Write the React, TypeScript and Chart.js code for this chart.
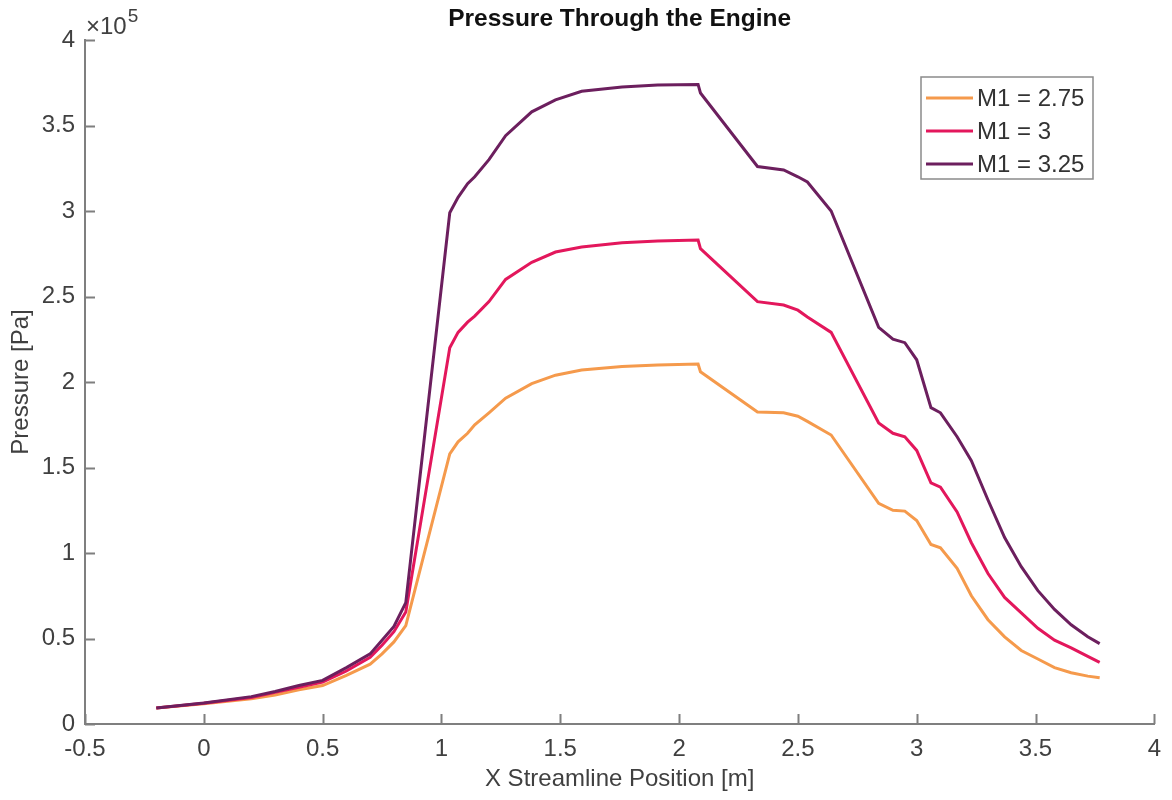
import React, { useEffect, useRef } from "react";
import { Chart, registerables } from "chart.js";

Chart.register(...registerables);

// Streamline position along the engine [m]
const X_POS = [
  -0.2, 0, 0.2, 0.3, 0.4, 0.5, 0.6, 0.7, 0.75, 0.8, 0.85, 1.035, 1.07, 1.11, 1.14,
  1.2, 1.27, 1.38, 1.48, 1.59, 1.76, 1.91, 2.08, 2.09, 2.33, 2.44, 2.5, 2.54, 2.64,
  2.84, 2.9, 2.95, 3.0, 3.06, 3.1, 3.17, 3.23, 3.3, 3.37, 3.44, 3.51, 3.58, 3.65,
  3.72, 3.77,
];

// Static pressure in units of 10^5 Pa
const P_M275 = [
  0.094, 0.118, 0.148, 0.17, 0.2, 0.225, 0.285, 0.35, 0.41, 0.48, 0.575, 1.58, 1.65,
  1.7, 1.75, 1.82, 1.905, 1.99, 2.04, 2.07, 2.09, 2.1, 2.105, 2.06, 1.825, 1.82, 1.8,
  1.77, 1.69, 1.29, 1.25, 1.245, 1.19, 1.05, 1.03, 0.91, 0.75, 0.61, 0.51, 0.43,
  0.38, 0.33, 0.3, 0.28, 0.27,
];
const P_M300 = [
  0.094, 0.122, 0.155, 0.185, 0.215, 0.245, 0.31, 0.39, 0.46, 0.54, 0.655, 2.2, 2.29,
  2.35, 2.385, 2.47, 2.6, 2.7, 2.76, 2.79, 2.815, 2.825, 2.83, 2.78, 2.47, 2.45, 2.42,
  2.38, 2.29, 1.76, 1.7, 1.68, 1.6, 1.41, 1.385, 1.24, 1.06, 0.88, 0.74, 0.65, 0.56,
  0.49, 0.445, 0.395, 0.36,
];
const P_M325 = [
  0.094, 0.123, 0.16, 0.19, 0.225, 0.255, 0.33, 0.41, 0.49, 0.57, 0.71, 2.99, 3.08,
  3.16, 3.2, 3.3, 3.44, 3.58, 3.65, 3.7, 3.725, 3.737, 3.74, 3.69, 3.26, 3.24, 3.2,
  3.17, 3.0, 2.32, 2.25, 2.23, 2.13, 1.85, 1.82, 1.68, 1.54, 1.31, 1.09, 0.92, 0.78,
  0.67, 0.58, 0.51, 0.47,
];

const SERIES_LABELS = ["M1 = 2.75", "M1 = 3", "M1 = 3.25"];
const X_TICKS = [-0.5, 0, 0.5, 1, 1.5, 2, 2.5, 3, 3.5, 4];
const Y_TICKS = [0, 0.5, 1, 1.5, 2, 2.5, 3, 3.5, 4];
const Y_EXPONENT = "5";

const TITLE = "Pressure Through the Engine";
const X_TITLE = "X Streamline Position [m]";
const Y_TITLE = "Pressure [Pa]";

const FONT = "'Liberation Sans', Arial, Helvetica, sans-serif";
const AXIS_COLOR = "#7f7f7f";
const TEXT_COLOR = "#404040";

const toPoints = (ys: number[]) => X_POS.map((x, i) => ({ x, y: ys[i] }));

// Inward ticks, ×10^5 label, title and the boxed legend
const decorations = {
  id: "decorations",
  afterDraw(chart: any) {
    const { ctx, chartArea, scales } = chart;
    const xs = scales.x;
    const ys = scales.y;
    ctx.save();

    // inward tick marks
    ctx.strokeStyle = AXIS_COLOR;
    ctx.lineWidth = 2;
    ctx.beginPath();
    X_TICKS.forEach((v) => {
      const px = Math.round(xs.getPixelForValue(v)) + 0.5;
      ctx.moveTo(px, chartArea.bottom);
      ctx.lineTo(px, chartArea.bottom - 10);
    });
    Y_TICKS.forEach((v) => {
      const py = Math.round(ys.getPixelForValue(v)) + 0.5;
      ctx.moveTo(chartArea.left, py);
      ctx.lineTo(chartArea.left + 10, py);
    });
    ctx.stroke();

    // exponent label
    ctx.fillStyle = TEXT_COLOR;
    ctx.textBaseline = "alphabetic";
    ctx.textAlign = "left";
    ctx.font = `24px ${FONT}`;
    ctx.fillText("\u00d710", chartArea.left + 1, 34);
    const w = ctx.measureText("\u00d710").width;
    ctx.font = `19px ${FONT}`;
    ctx.fillText(Y_EXPONENT, chartArea.left + 2 + w, 22);

    // title
    ctx.fillStyle = "#111111";
    ctx.font = `bold 24.5px ${FONT}`;
    ctx.textAlign = "center";
    ctx.textBaseline = "middle";
    ctx.fillText(TITLE, (chartArea.left + chartArea.right) / 2, 19);

    // legend
    const lx = 921;
    const ly = 77;
    const lw = 172;
    const lh = 102;
    ctx.fillStyle = "#ffffff";
    ctx.fillRect(lx, ly, lw, lh);
    ctx.strokeStyle = "#8a8a8a";
    ctx.lineWidth = 1.5;
    ctx.strokeRect(lx, ly, lw, lh);
    ctx.font = `24px ${FONT}`;
    ctx.textAlign = "left";
    ctx.textBaseline = "middle";
    chart.data.datasets.forEach((ds: any, i: number) => {
      const y = ly + 21 + i * 33;
      ctx.strokeStyle = ds.borderColor;
      ctx.lineWidth = 3;
      ctx.beginPath();
      ctx.moveTo(lx + 5, y);
      ctx.lineTo(lx + 52, y);
      ctx.stroke();
      ctx.fillStyle = "#333333";
      ctx.fillText(ds.label, lx + 56, y + 1);
    });

    ctx.restore();
  },
};

export default function App() {
  const canvasRef = useRef<HTMLCanvasElement | null>(null);

  useEffect(() => {
    if (!canvasRef.current) return;
    const chart = new Chart(canvasRef.current, {
      type: "line",
      data: {
        datasets: [
          {
            label: SERIES_LABELS[0],
            data: toPoints(P_M275),
            borderColor: "#f59a4c",
            order: 3,
          },
          {
            label: SERIES_LABELS[1],
            data: toPoints(P_M300),
            borderColor: "#e3175c",
            order: 2,
          },
          {
            label: SERIES_LABELS[2],
            data: toPoints(P_M325),
            borderColor: "#6c1f5e",
            order: 1,
          },
        ],
      },
      options: {
        animation: false,
        responsive: true,
        maintainAspectRatio: false,
        parsing: false,
        elements: {
          line: { borderWidth: 3, tension: 0, fill: false },
          point: { radius: 0, hoverRadius: 0 },
        },
        layout: { padding: { top: 40, right: 14, left: 0, bottom: 0 } },
        plugins: {
          legend: { display: false },
          title: { display: false },
          tooltip: { enabled: false },
        },
        scales: {
          x: {
            type: "linear",
            min: -0.5,
            max: 4,
            afterFit: (s: any) => {
              s.height = 76;
            },
            afterBuildTicks: (s: any) => {
              s.ticks = X_TICKS.map((value) => ({ value }));
            },
            grid: { display: false, drawTicks: false },
            border: { display: true, color: AXIS_COLOR, width: 2 },
            ticks: {
              padding: 11,
              color: TEXT_COLOR,
              font: { family: FONT, size: 24 },
              maxRotation: 0,
              callback: (v: any) => String(v),
            },
            title: {
              display: true,
              text: X_TITLE,
              color: TEXT_COLOR,
              font: { family: FONT, size: 24 },
              padding: { top: 0, bottom: 6 },
            },
          },
          y: {
            type: "linear",
            min: 0,
            max: 4,
            afterFit: (s: any) => {
              s.width = 85;
            },
            afterBuildTicks: (s: any) => {
              s.ticks = Y_TICKS.map((value) => ({ value }));
            },
            grid: { display: false, drawTicks: false },
            border: { display: true, color: AXIS_COLOR, width: 2 },
            ticks: {
              padding: 10,
              color: TEXT_COLOR,
              font: { family: FONT, size: 24 },
              callback: (v: any) => String(v),
            },
            title: {
              display: true,
              text: Y_TITLE,
              color: TEXT_COLOR,
              font: { family: FONT, size: 24 },
              padding: { top: 7, bottom: 0 },
            },
          },
        },
      },
      plugins: [decorations],
    });
    return () => chart.destroy();
  }, []);

  return (
    <div
      style={{
        position: "fixed",
        left: 0,
        top: 0,
        width: 1172,
        height: 800,
        background: "#ffffff",
      }}
    >
      <canvas ref={canvasRef} />
    </div>
  );
}
